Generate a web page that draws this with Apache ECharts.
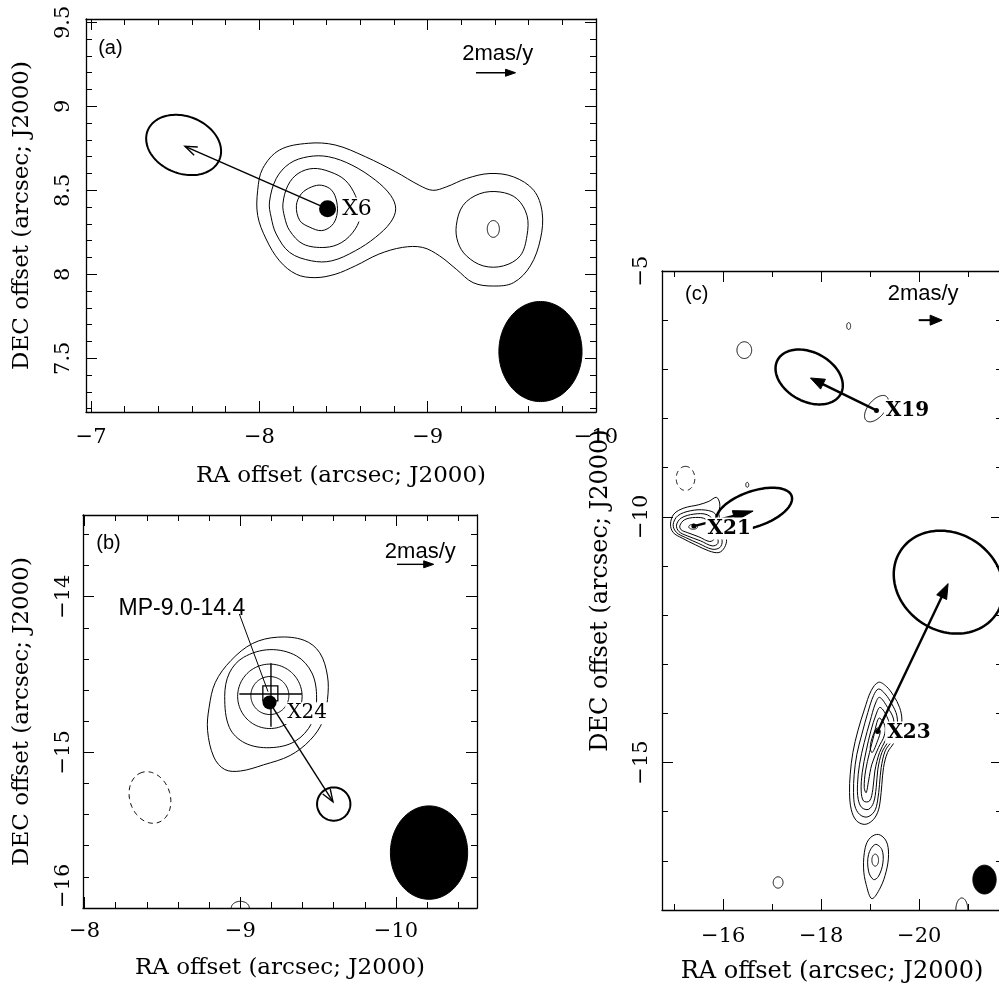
<!DOCTYPE html>
<html><head><meta charset="utf-8">
<script src="https://cdn.jsdelivr.net/npm/echarts@6/dist/echarts.min.js"></script>
<style>html,body{margin:0;padding:0;background:#fff}#c{width:999px;height:984px}</style>
</head><body><div id="c"></div>
<script>
// ---------------- axis ranges and tick labels ----------------
const xRangeA = [-10.0, -6.97], yRangeA = [7.18, 9.52];
const xTicksA = [-10, -9, -8, -7], yTicksA = [7.5, 8, 8.5, 9, 9.5];
const xRangeB = [-10.52, -7.99], yRangeB = [-16, -13.475];
const xTicksB = [-10, -9, -8], yTicksB = [-16, -15, -14];
const xRangeC = [-21.69, -14.75], yRangeC = [-18, -5];
const xTicksC = [-20, -18, -16], yTicksC = [-15, -10, -5];
const xMinorC = [-21, -19, -17, -15];
const yMinorC = [-17, -16, -14, -13, -12, -11, -9, -8, -7, -6];

// ---------------- panel (a) ----------------
const contoursA = [
  [[-7.99,8.50],[-8.02,8.63],[-8.12,8.74],[-8.29,8.78],[-8.45,8.77],[-8.63,8.70],[-8.81,8.61],[-8.95,8.53],[-9.03,8.50],[-9.11,8.52],[-9.23,8.57],[-9.37,8.60],[-9.51,8.58],[-9.63,8.50],[-9.68,8.37],[-9.67,8.21],[-9.61,8.05],[-9.51,7.95],[-9.39,7.93],[-9.27,7.95],[-9.17,8.03],[-9.07,8.11],[-8.97,8.16],[-8.85,8.16],[-8.71,8.12],[-8.57,8.05],[-8.45,8.00],[-8.33,7.98],[-8.22,8.00],[-8.12,8.08],[-8.04,8.21],[-7.99,8.35]],
  [[-8.06,8.43],[-8.10,8.57],[-8.18,8.66],[-8.29,8.70],[-8.41,8.70],[-8.55,8.65],[-8.69,8.56],[-8.78,8.47],[-8.81,8.39],[-8.78,8.31],[-8.69,8.22],[-8.57,8.14],[-8.43,8.08],[-8.31,8.08],[-8.18,8.13],[-8.10,8.24],[-8.07,8.34]],
  [[-8.14,8.42],[-8.17,8.53],[-8.23,8.60],[-8.32,8.63],[-8.42,8.61],[-8.51,8.56],[-8.57,8.47],[-8.60,8.36],[-8.57,8.27],[-8.49,8.19],[-8.39,8.16],[-8.26,8.18],[-8.18,8.26],[-8.15,8.34]],
  [[-8.22,8.41],[-8.25,8.48],[-8.31,8.52],[-8.37,8.53],[-8.43,8.50],[-8.46,8.43],[-8.46,8.35],[-8.43,8.29],[-8.37,8.26],[-8.30,8.28],[-8.24,8.32]],
  [[-9.17,8.29],[-9.21,8.41],[-9.31,8.48],[-9.43,8.49],[-9.53,8.45],[-9.59,8.35],[-9.59,8.23],[-9.55,8.11],[-9.45,8.05],[-9.33,8.05],[-9.23,8.11],[-9.18,8.19]]
];
// ellipses: [centre x, centre y, semi-major, semi-minor, angle deg]
const thinEllA = [[-9.39, 8.27, 0.05, 0.036, 90]];
const pmEllA = [[-7.55, 8.77, 0.23, 0.17, -22]];
const beamA = [[-9.67, 7.54, 0.298, 0.247, 90]];
const arrowA = [[-8.405, 8.39, -7.558, 8.762]];
const scaleArrowA = [[-9.287, 9.2, -9.522, 9.2]];
const dotA = [[-8.405, 8.39]];
const srcLabelA = ['X6'], srcLabelPosA = [[-8.48, 8.385]];
const txtA = ['(a)', '2mas/y'], txtPosA = [[-7.115, 9.343], [-9.416, 9.31]];

// ---------------- panel (b) ----------------
const contoursB = [
  [[-8.90,-14.64],[-8.93,-14.49],[-9.02,-14.39],[-9.19,-14.34],[-9.36,-14.38],[-9.46,-14.49],[-9.49,-14.65],[-9.46,-14.81],[-9.35,-14.93],[-9.19,-14.97],[-9.03,-14.94],[-8.93,-14.84]],
  [[-8.79,-14.86],[-8.80,-14.71],[-8.84,-14.55],[-8.94,-14.41],[-9.08,-14.30],[-9.24,-14.26],[-9.41,-14.28],[-9.51,-14.36],[-9.56,-14.51],[-9.56,-14.66],[-9.53,-14.80],[-9.45,-14.92],[-9.32,-15.02],[-9.15,-15.08],[-9.00,-15.12],[-8.90,-15.11],[-8.83,-15.03]]
];
const thinEllB = [[-9.19,-14.635,0.122,0.122,0],[-9.19,-14.64,0.207,0.207,0],[-9.0,-16.0,0.058,0.043,0]];
const dashEllB = [[-8.42,-15.29,0.169,0.130,108]];
const pmEllB = [[-9.60,-15.332,0.107,0.107,0]];
const beamB = [[-10.212,-15.644,0.30,0.248,90]];
const arrowB = [[-9.188,-14.679,-9.595,-15.317]];
const scaleArrowB = [[-10.006,-13.792,-10.242,-13.792]];
const leaderB = [[-8.994,-14.111,-9.178,-14.610]];
const crossB = [[-8.994,-14.625,-9.396,-14.625],[-9.197,-14.428,-9.197,-14.835]];
const squareB = [[-9.193,-14.621]];
const dotB = [[-9.188,-14.679]];
const srcLabelB = ['X24'], srcLabelPosB = [[-9.289,-14.749]];
const txtB = ['(b)', '2mas/y'], txtPosB = [[-8.154,-13.657], [-10.156,-13.711]];
const mpLabel = ['MP-9.0-14.4'], mpLabelPos = [[-8.625,-14.075]];

// ---------------- panel (c) ----------------
const contoursC = [
  // X21
  [[-14.924,-10.150],[-14.992,-9.946],[-15.196,-9.823],[-15.502,-9.755],[-15.706,-9.687],[-15.862,-9.605],[-15.930,-9.741],[-15.910,-9.946],[-15.978,-10.218],[-16.067,-10.456],[-16.026,-10.626],[-15.910,-10.728],[-15.706,-10.694],[-15.434,-10.571],[-15.162,-10.435],[-14.978,-10.320]],
  [[-14.978,-10.163],[-15.073,-9.980],[-15.332,-9.878],[-15.638,-9.864],[-15.842,-9.946],[-15.890,-10.218],[-15.978,-10.490],[-15.930,-10.626],[-15.774,-10.660],[-15.502,-10.544],[-15.230,-10.422],[-15.046,-10.320]],
  [[-15.046,-10.170],[-15.141,-10.027],[-15.400,-9.946],[-15.672,-9.959],[-15.822,-10.116],[-15.876,-10.388],[-15.890,-10.544],[-15.774,-10.592],[-15.536,-10.490],[-15.264,-10.388],[-15.094,-10.299]],
  [[-15.114,-10.184],[-15.209,-10.061],[-15.434,-10.014],[-15.638,-10.048],[-15.754,-10.218],[-15.822,-10.435],[-15.726,-10.503],[-15.502,-10.408],[-15.264,-10.320],[-15.141,-10.265]],
  // X23
  [[-19.170,-13.367],[-19.327,-13.449],[-19.476,-13.639],[-19.599,-13.878],[-19.646,-14.116],[-19.612,-14.354],[-19.490,-14.592],[-19.354,-14.796],[-19.272,-15.102],[-19.238,-15.442],[-19.204,-15.782],[-19.150,-16.020],[-19.034,-16.190],[-18.878,-16.258],[-18.714,-16.177],[-18.612,-15.952],[-18.578,-15.612],[-18.592,-15.238],[-18.646,-14.796],[-18.748,-14.354],[-18.884,-13.912],[-19.020,-13.537]],
  [[-19.170,-13.503],[-19.306,-13.605],[-19.442,-13.810],[-19.544,-14.048],[-19.544,-14.320],[-19.442,-14.558],[-19.306,-14.762],[-19.224,-15.102],[-19.190,-15.442],[-19.150,-15.782],[-19.082,-16.000],[-18.932,-16.109],[-18.782,-16.054],[-18.687,-15.884],[-18.660,-15.612],[-18.673,-15.238],[-18.728,-14.830],[-18.830,-14.422],[-18.952,-13.980],[-19.068,-13.639]],
  [[-19.190,-13.674],[-19.354,-13.878],[-19.476,-14.116],[-19.463,-14.354],[-19.354,-14.592],[-19.238,-14.796],[-19.156,-15.136],[-19.122,-15.510],[-19.068,-15.816],[-18.966,-15.952],[-18.830,-15.918],[-18.755,-15.748],[-18.741,-15.442],[-18.782,-15.034],[-18.878,-14.592],[-19.000,-14.150],[-19.102,-13.810]],
  [[-19.204,-13.878],[-19.354,-14.095],[-19.395,-14.320],[-19.306,-14.558],[-19.190,-14.796],[-19.095,-15.170],[-19.054,-15.544],[-18.986,-15.782],[-18.864,-15.782],[-18.816,-15.578],[-18.837,-15.204],[-18.918,-14.762],[-19.014,-14.354],[-19.122,-14.014]],
  [[-19.190,-14.095],[-19.299,-14.252],[-19.286,-14.456],[-19.170,-14.694],[-19.034,-15.034],[-18.966,-15.374],[-18.918,-15.612],[-18.878,-15.510],[-18.905,-15.170],[-18.986,-14.796],[-19.082,-14.422],[-19.136,-14.184]],
  [[-19.136,-14.299],[-19.204,-14.354],[-19.150,-14.558],[-19.041,-14.796],[-19.000,-14.694],[-19.054,-14.456]],
  // lower source
  [[-19.170,-16.463],[-19.327,-16.599],[-19.374,-16.871],[-19.327,-17.211],[-19.204,-17.551],[-19.034,-17.769],[-18.918,-17.483],[-18.864,-17.143],[-18.898,-16.735],[-19.000,-16.531]],
  [[-19.102,-16.667],[-19.238,-16.769],[-19.259,-17.041],[-19.170,-17.313],[-19.068,-17.381],[-18.966,-17.211],[-18.966,-16.871]]
];
const thinEllC = [[-18.56,-6.12,0.07,0.04,90],[-16.43,-6.61,0.17,0.15,90],[-19.128,-7.80,0.32,0.17,50],[-16.49,-9.35,0.05,0.03,90],[-15.386,-10.204,0.09,0.05,0],[-19.102,-16.986,0.122,0.068,90],[-17.12,-17.44,0.115,0.10,90],[-20.87,-18.0,0.245,0.122,90]];
const dashEllC = [[-15.23,-9.22,0.245,0.19,90]];
const pmEllC = [[-17.754,-7.156,0.731,0.499,-28],[-16.63,-9.84,0.81,0.36,19],[-20.6,-11.33,1.17,0.99,-33]];
const beamC = [[-21.333,-17.381,0.293,0.238,90]];
const arrowsC = [[-19.128,-7.837,-17.78,-7.177],[-15.40,-10.19,-16.61,-9.884],[-19.15,-14.367,-20.59,-11.36]];
const headLenC = [14, 20, 15];
const scaleArrowC = [[-19.99,-6.0,-20.468,-6.0]];
const dotsC = [[-19.128,-7.837],[-15.40,-10.19],[-19.15,-14.367]];
const srcLabelC = ['X19','X21','X23'], srcLabelPosC = [[-19.277,-7.837],[-15.638,-10.238],[-19.306,-14.388]];
const txtC = ['(c)', '2mas/y'], txtPosC = [[-15.46,-5.47], [-20.08,-5.47]];

// ---------------- helpers ----------------
const SERIF = "'DejaVu Serif', serif";
const SANS = "'Liberation Sans', Arial, sans-serif";
function minorTicks(lo, hi, step, majors) {
  const out = [], n = Math.round((hi - lo) / step);
  for (let i = 0; i <= n; i++) {
    const v = +(lo + i * step).toFixed(4);
    if (!majors.some(m => Math.abs(m - v) < 1e-6)) out.push(v);
  }
  return out;
}
const fmt = v => (Math.round(v * 100) / 100).toString().replace('-', '\u2212');

function axesFor(kind, g, range, inverse, major, minor, lab) {
  const pos = kind === 'x' ? ['bottom', 'top'] : ['left', 'right'];
  const list = [];
  [0, 1].forEach(side => {
    [true, false].forEach(isMajor => {
      const ax = {
        type: 'value', gridIndex: g, min: range[0], max: range[1], inverse: inverse,
        position: pos[side],
        axisLine: {show: isMajor, onZero: false, lineStyle: {color: '#000', width: 1.3}},
        axisTick: {show: true, inside: true, length: isMajor ? 11 : 6,
                   customValues: isMajor ? major : minor, lineStyle: {color: '#000', width: 1}},
        splitLine: {show: false}, minorTick: {show: false},
        axisLabel: {show: false}
      };
      if (side === 0 && isMajor) {
        ax.axisLabel = Object.assign({show: true, customValues: major, formatter: fmt,
          color: '#000', fontFamily: SERIF, fontSize: 21}, lab.label);
        ax.name = lab.name; ax.nameLocation = 'middle'; ax.nameGap = lab.gap;
        ax.nameTextStyle = {color: '#000', fontFamily: SERIF, fontSize: lab.nameSize};
        if (kind === 'y') ax.nameRotate = 90;
      }
      list.push(ax);
    });
  });
  return list;
}

const RA = 'RA offset (arcsec; J2000)', DEC = 'DEC offset (arcsec; J2000)';
const xAxes = [].concat(
  axesFor('x', 0, xRangeA, true, xTicksA, minorTicks(-10, -7, 0.2, xTicksA), {name: RA, gap: 53, nameSize: 23, label: {margin: 15}}),
  axesFor('x', 1, xRangeB, true, xTicksB, minorTicks(-10.4, -8, 0.2, xTicksB), {name: RA, gap: 49, nameSize: 23, label: {margin: 13}}),
  axesFor('x', 2, xRangeC, true, xTicksC, xMinorC, {name: RA, gap: 50, nameSize: 24, label: {margin: 16}})
);
const yAxes = [].concat(
  axesFor('y', 0, yRangeA, false, yTicksA, minorTicks(7.2, 9.5, 0.1, yTicksA), {name: DEC, gap: 52, nameSize: 23, label: {margin: 12, rotate: 90}}),
  axesFor('y', 1, yRangeB, false, yTicksB, minorTicks(-16, -13.6, 0.2, yTicksB), {name: DEC, gap: 49, nameSize: 23, label: {margin: 9, rotate: 90, alignMinLabel: 'left'}}),
  axesFor('y', 2, yRangeC, false, yTicksC, yMinorC, {name: DEC, gap: 49, nameSize: 24, label: {margin: 10, rotate: 90}})
);

function base(g) { return {xAxisIndex: 4 * g, yAxisIndex: 4 * g, silent: true, clip: true, animation: false}; }

function polySeries(g, polys, style) {
  return Object.assign(base(g), {
    type: 'custom', data: polys.map((p, i) => [p[0][0], p[0][1], i]),
    renderItem: (params, api) => {
      const p = polys[api.value(2)];
      return {type: 'polygon', shape: {points: p.map(q => api.coord(q)), smooth: 0.35},
              style: Object.assign({fill: 'none', stroke: '#000', lineWidth: 1}, style)};
    }
  });
}
function ellSeries(g, ells, style) {
  return Object.assign(base(g), {
    type: 'custom', data: ells,
    renderItem: (params, api) => {
      const cx = api.value(0), cy = api.value(1), a = api.value(2), b = api.value(3);
      const th = api.value(4) * Math.PI / 180, pts = [];
      for (let k = 0; k < 120; k++) {
        const t = 2 * Math.PI * k / 120;
        const u = a * Math.cos(t) * Math.cos(th) - b * Math.sin(t) * Math.sin(th);
        const v = a * Math.cos(t) * Math.sin(th) + b * Math.sin(t) * Math.cos(th);
        pts.push(api.coord([cx - u, cy + v]));   // RA axis runs right-to-left
      }
      return {type: 'polygon', shape: {points: pts},
              style: Object.assign({fill: 'none', stroke: '#000', lineWidth: 1}, style)};
    }
  });
}
function arrowSeries(g, arrs, opt) {
  return Object.assign(base(g), {
    type: 'custom', data: arrs.map((a, i) => a.concat([i])),
    renderItem: (params, api) => {
      const p0 = api.coord([api.value(0), api.value(1)]);
      const p1 = api.coord([api.value(2), api.value(3)]);
      const len = opt.lens ? opt.lens[api.value(4)] : opt.len, half = opt.half;
      const dx = p1[0] - p0[0], dy = p1[1] - p0[1], L = Math.hypot(dx, dy);
      const ux = dx / L, uy = dy / L;
      const bx = p1[0] - ux * len, by = p1[1] - uy * len;
      const l = [bx - uy * half, by + ux * half], r = [bx + uy * half, by - ux * half];
      const ls = {stroke: '#000', lineWidth: opt.width, fill: 'none'};
      const children = [];
      if (opt.filled) {
        children.push({type: 'line', shape: {x1: p0[0], y1: p0[1], x2: bx + ux * 2, y2: by + uy * 2}, style: ls});
        children.push({type: 'polygon', shape: {points: [p1, l, r]}, style: {fill: '#000', stroke: '#000', lineWidth: 1}});
      } else {
        children.push({type: 'line', shape: {x1: p0[0], y1: p0[1], x2: p1[0], y2: p1[1]}, style: ls});
        children.push({type: 'polyline', shape: {points: [l, p1, r]}, style: ls});
      }
      return {type: 'group', children: children};
    }
  });
}
function segSeries(g, segs, width) {
  return Object.assign(base(g), {
    type: 'custom', data: segs,
    renderItem: (params, api) => {
      const p0 = api.coord([api.value(0), api.value(1)]), p1 = api.coord([api.value(2), api.value(3)]);
      return {type: 'line', shape: {x1: p0[0], y1: p0[1], x2: p1[0], y2: p1[1]},
              style: {stroke: '#000', lineWidth: width}};
    }
  });
}
function textSeries(g, texts, pos, font, align, bg) {
  return Object.assign(base(g), {
    type: 'custom', clip: false, data: pos.map((p, i) => [p[0], p[1], i]),
    renderItem: (params, api) => {
      const c = api.coord([api.value(0), api.value(1)]);
      const st = {text: texts[api.value(2)], font: font, fill: '#000',
                  align: align, textAlign: align, verticalAlign: 'middle', textVerticalAlign: 'middle'};
      if (bg) { st.backgroundColor = '#fff'; st.padding = [1, 2, 1, 2]; }
      return {type: 'text', x: c[0], y: c[1], style: st};
    }
  });
}
function dotSeries(g, pts, size) {
  return Object.assign(base(g), {type: 'scatter', data: pts, symbolSize: size,
    itemStyle: {color: '#000', opacity: 1}});
}

const series = [
  // panel (a)
  polySeries(0, contoursA, {}),
  ellSeries(0, thinEllA, {}),
  ellSeries(0, beamA, {fill: '#000'}),
  ellSeries(0, pmEllA, {lineWidth: 2}),
  arrowSeries(0, arrowA, {width: 1.4, len: 12, half: 4.5, filled: false}),
  arrowSeries(0, scaleArrowA, {width: 1.4, len: 10, half: 3.5, filled: true}),
  dotSeries(0, dotA, 17),
  textSeries(0, srcLabelA, srcLabelPosA, "22px " + SERIF, 'left', true),
  textSeries(0, txtA.slice(0, 1), txtPosA.slice(0, 1), "20px " + SANS, 'center', false),
  textSeries(0, txtA.slice(1), txtPosA.slice(1), "22px " + SANS, 'center', false),
  // panel (b)
  polySeries(1, contoursB, {}),
  ellSeries(1, thinEllB, {}),
  ellSeries(1, dashEllB, {lineDash: [5, 4]}),
  ellSeries(1, beamB, {fill: '#000'}),
  ellSeries(1, pmEllB, {lineWidth: 2}),
  segSeries(1, leaderB, 1),
  segSeries(1, crossB, 1.4),
  arrowSeries(1, arrowB, {width: 1.4, len: 12, half: 4.5, filled: false}),
  arrowSeries(1, scaleArrowB, {width: 1.4, len: 10, half: 3.5, filled: true}),
  Object.assign(base(1), {type: 'scatter', data: squareB, symbol: 'rect', symbolSize: 15,
    itemStyle: {color: 'rgba(0,0,0,0)', borderColor: '#000', borderWidth: 1.3, opacity: 1}}),
  dotSeries(1, dotB, 14),
  textSeries(1, srcLabelB, srcLabelPosB, "20px " + SERIF, 'left', true),
  textSeries(1, txtB.slice(0, 1), txtPosB.slice(0, 1), "20px " + SANS, 'center', false),
  textSeries(1, txtB.slice(1), txtPosB.slice(1), "22px " + SANS, 'center', false),
  textSeries(1, mpLabel, mpLabelPos, "23px " + SANS, 'center', false),
  // panel (c)
  polySeries(2, contoursC, {}),
  ellSeries(2, thinEllC, {}),
  ellSeries(2, dashEllC, {lineDash: [5, 4]}),
  ellSeries(2, beamC, {fill: '#000'}),
  ellSeries(2, pmEllC, {lineWidth: 2.5}),
  arrowSeries(2, arrowsC, {width: 2.4, lens: headLenC, half: 5.5, filled: true}),
  arrowSeries(2, scaleArrowC, {width: 2, len: 12, half: 5, filled: true}),
  dotSeries(2, dotsC, 5),
  textSeries(2, srcLabelC, srcLabelPosC, "bold 20px " + SERIF, 'left', true),
  textSeries(2, txtC.slice(0, 1), txtPosC.slice(0, 1), "20px " + SANS, 'center', false),
  textSeries(2, txtC.slice(1), txtPosC.slice(1), "22px " + SANS, 'center', false)
];

const chart = echarts.init(document.getElementById('c'), null, {renderer: 'canvas'});
chart.setOption({
  backgroundColor: '#fff',
  animation: false,
  grid: [
    {left: 86, top: 19, width: 510, height: 393, outerBoundsMode: 'none', containLabel: false},
    {left: 83, top: 515, width: 394, height: 393, outerBoundsMode: 'none', containLabel: false},
    {left: 662, top: 271, width: 340, height: 639, outerBoundsMode: 'none', containLabel: false}
  ],
  xAxis: xAxes,
  yAxis: yAxes,
  series: series
});
</script>
</body></html>
